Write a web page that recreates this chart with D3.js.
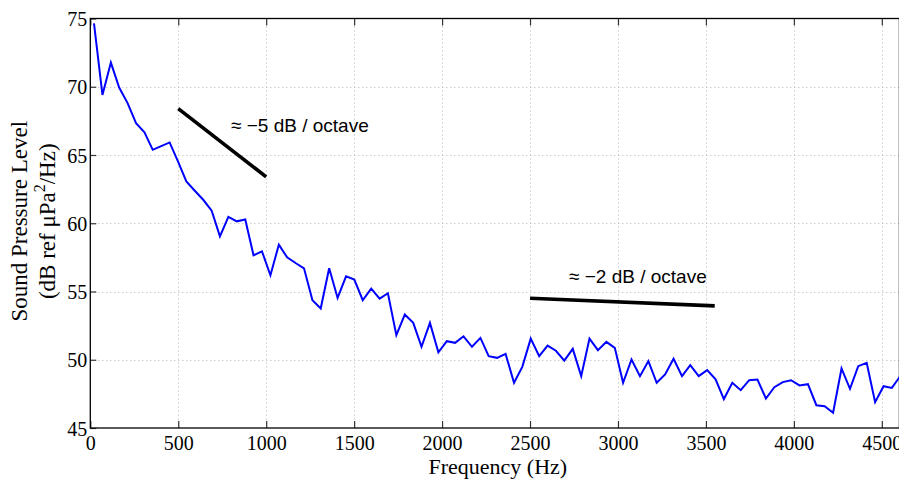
<!DOCTYPE html>
<html>
<head>
<meta charset="utf-8">
<script src="https://cdn.jsdelivr.net/npm/d3@7"></script>
<style>
  body { margin: 0; background: #fff; }
  svg { display: block; }
  .axis text { font-family: "Liberation Serif", "Times New Roman", serif; font-size: 20px; fill: #000; }
  .axis-title { font-family: "Liberation Serif", "Times New Roman", serif; font-size: 22px; fill: #000; }
  .note { font-family: "Liberation Sans", Arial, Helvetica, sans-serif; font-size: 19px; fill: #000; }
</style>
</head>
<body>
<div id="chart"></div>
<script>
// spectrum bins (Hz) and levels (dB ref uPa^2/Hz)
const freqHz = [21, 69, 117, 164, 212, 260, 308, 355, 403, 451, 499, 546, 594, 642, 690, 737,
  785, 833, 881, 928, 976, 1024, 1072, 1119, 1167, 1215, 1263, 1310, 1358, 1406, 1454, 1501,
  1549, 1597, 1645, 1692, 1740, 1788, 1836, 1883, 1931, 1979, 2027, 2074, 2122, 2170, 2218, 2265,
  2313, 2361, 2409, 2456, 2504, 2552, 2600, 2647, 2695, 2743, 2791, 2838, 2886, 2934, 2982, 3029,
  3077, 3125, 3173, 3220, 3268, 3316, 3364, 3411, 3459, 3507, 3555, 3602, 3650, 3698, 3746, 3793,
  3841, 3889, 3937, 3984, 4032, 4080, 4128, 4175, 4223, 4271, 4319, 4366, 4414, 4462, 4510, 4557, 4605];
const splDb = [74.65, 69.4, 71.77, 69.94, 68.8, 67.33, 66.67, 65.38, 65.65, 65.92, 64.52, 63.06,
  62.38, 61.72, 60.92, 59.04, 60.46, 60.14, 60.28, 57.65, 57.94, 56.19, 58.43, 57.5, 57.09, 56.7,
  54.36, 53.75, 56.7, 54.53, 56.11, 55.87, 54.36, 55.21, 54.48, 54.87, 51.8, 53.31, 52.7, 50.95,
  52.7, 50.55, 51.36, 51.24, 51.72, 50.95, 51.6, 50.26, 50.14, 50.43, 48.31, 49.48, 51.55, 50.26,
  51.04, 50.66, 49.94, 50.8, 48.8, 51.55, 50.7, 51.31, 50.87, 48.31, 50.02, 48.8, 49.9, 48.31,
  48.92, 50.07, 48.8, 49.6, 48.8, 49.24, 48.56, 47.12, 48.31, 47.77, 48.5, 48.55, 47.16, 47.99,
  48.36, 48.5, 48.12, 48.21, 46.67, 46.6, 46.12, 49.36, 47.87, 49.53, 49.78, 46.89, 48.06, 47.94, 48.8];

const xTicks = [0, 500, 1000, 1500, 2000, 2500, 3000, 3500, 4000, 4500];
const yTicks = [45, 50, 55, 60, 65, 70, 75];

// slope guide lines
const slope5Freq = [500, 1000];
const slope5Db = [68.4, 63.4];
const slope2Freq = [2500, 3550];
const slope2Db = [54.5, 53.95];

const width = 899, height = 479;
const margin = { top: 18.5, left: 90.3, bottom: 51 };
const plotRight = 899.4;

const svg = d3.select("#chart").append("svg")
    .attr("width", width)
    .attr("height", height);

const x = d3.scaleLinear().domain([0, 4600]).range([margin.left, plotRight]);
const y = d3.scaleLinear().domain([45, 75]).range([height - margin.bottom, margin.top]);

svg.append("clipPath").attr("id", "plot-clip")
  .append("rect")
    .attr("x", x(0)).attr("y", y(75))
    .attr("width", x(4600) - x(0)).attr("height", y(45) - y(75));

// dotted grid
const grid = svg.append("g").attr("stroke", "#b4b4b4").attr("stroke-width", 1).attr("stroke-dasharray", "1,3");
grid.selectAll(".gx").data(xTicks.slice(1)).join("line")
    .attr("x1", d => Math.round(x(d)) + 0.5).attr("x2", d => Math.round(x(d)) + 0.5)
    .attr("y1", y(75)).attr("y2", y(45));
grid.selectAll(".gy").data(yTicks.slice(1, -1)).join("line")
    .attr("x1", x(0)).attr("x2", x(4600))
    .attr("y1", d => Math.round(y(d)) + 0.5).attr("y2", d => Math.round(y(d)) + 0.5);

// axes with inward ticks
const fmt = d3.format("d");
const xAxis = svg.append("g").attr("class", "axis")
    .attr("transform", `translate(0,${y(45)})`)
    .call(d3.axisBottom(x).tickValues(xTicks).tickFormat(fmt).tickSizeInner(-7).tickSizeOuter(0).tickPadding(8));
const xAxisTop = svg.append("g").attr("class", "axis")
    .attr("transform", `translate(0,${y(75)})`)
    .call(d3.axisTop(x).tickValues(xTicks).tickSizeInner(-7).tickSizeOuter(0).tickFormat(""));
const yAxis = svg.append("g").attr("class", "axis")
    .attr("transform", `translate(${x(0)},0)`)
    .call(d3.axisLeft(y).tickValues(yTicks).tickFormat(fmt).tickSizeInner(-6).tickSizeOuter(0).tickPadding(3));

[xAxis, xAxisTop, yAxis].forEach(a => {
  a.select(".domain").remove();
  a.selectAll(".tick line").attr("stroke", "#333").attr("stroke-width", 1.2);
});
yAxis.selectAll(".tick text").attr("dy", "0.36em");

// frame
svg.append("rect")
    .attr("x", x(0)).attr("y", y(75))
    .attr("width", x(4600) - x(0)).attr("height", y(45) - y(75))
    .attr("fill", "none").attr("stroke", "#000").attr("stroke-width", 1.3);

// spectrum
const line = d3.line().x((d, i) => x(freqHz[i])).y(d => y(d));
svg.append("path")
    .datum(splDb)
    .attr("clip-path", "url(#plot-clip)")
    .attr("fill", "none")
    .attr("stroke", "#0000ff")
    .attr("stroke-width", 2)
    .attr("d", line);

// slope guides
[[slope5Freq, slope5Db], [slope2Freq, slope2Db]].forEach(([fs, ds]) => {
  svg.append("line")
      .attr("x1", x(fs[0])).attr("y1", y(ds[0]))
      .attr("x2", x(fs[1])).attr("y2", y(ds[1]))
      .attr("stroke", "#000").attr("stroke-width", 3.6);
});

svg.append("text").attr("class", "note")
    .attr("x", 231).attr("y", 132)
    .text("\u2248 \u22125 dB / octave");
svg.append("text").attr("class", "note")
    .attr("x", 569).attr("y", 283)
    .text("\u2248 \u22122 dB / octave");

// axis titles
svg.append("text").attr("class", "axis-title")
    .attr("x", (x(0) + x(4600)) / 2 + 3).attr("y", 474)
    .attr("text-anchor", "middle")
    .text("Frequency (Hz)");

const yTitle = svg.append("text").attr("class", "axis-title")
    .attr("text-anchor", "middle")
    .style("font-size", "23px")
    .attr("transform", `translate(0,${(y(45) + y(75)) / 2 - 2}) rotate(-90)`);
yTitle.append("tspan").attr("x", 0).attr("y", 27).text("Sound Pressure Level");
const l2 = yTitle.append("tspan").attr("x", 0).attr("y", 55);
l2.append("tspan").text("(dB ref \u03bcPa");
l2.append("tspan").attr("dy", -10).style("font-size", "16px").text("2");
l2.append("tspan").attr("dy", 10).text("/Hz)");
</script>
</body>
</html>
